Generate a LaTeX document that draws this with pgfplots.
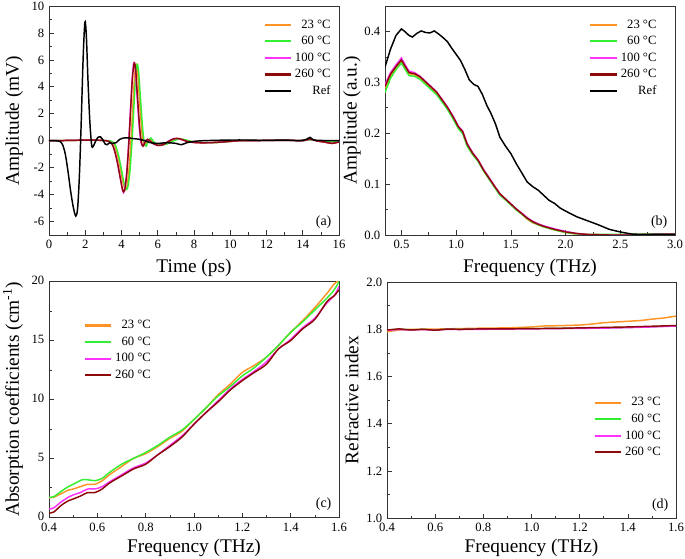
\documentclass[border=0pt]{standalone}
\usepackage{fontspec}
\setmainfont{Liberation Serif}
\usepackage{pgfplots}
\pgfplotsset{compat=1.18}
\definecolor{cA}{HTML}{FF9326}
\definecolor{cB}{HTML}{33EE33}
\definecolor{cC}{HTML}{FF33FF}
\definecolor{cD}{HTML}{8E0A0A}

\pgfplotsset{
  xlab/.style={every axis x label/.style={at={(axis description cs:0.5,#1)}, anchor=center,
      font=\fontsize{14.5}{17}\selectfont}},
  ylab/.style={every axis y label/.style={at={(axis description cs:#1,0.5)}, rotate=90, anchor=center,
      font=\fontsize{14.5}{17}\selectfont}},
  panel/.style={
    scale only axis,
    anchor=south west,
    font=\fontsize{9.5}{11}\selectfont,
    /pgf/number format/assume math mode=true,
    axis line style={black!80, line width=0.6pt},
    tick style={black!80, line width=0.5pt},
    major tick length=3.5pt, minor tick length=2pt,
    tick align=inside, xtick pos=bottom, ytick pos=left,
    minor x tick num=1, minor y tick num=1,
    xlab=-0.145, ylab=-0.12,
    legend cell align=right,
    legend style={draw=none, fill=none, font=\fontsize{9.5}{11}\selectfont,
      anchor=north west, row sep=0.6pt},
    legend image code/.code={\draw[#1, line width=1.6pt] (0pt,0pt) -- (20pt,0pt);},
    every axis plot/.append style={line width=1.1pt},
  },
}

\begin{document}
\begin{tikzpicture}
\path[use as bounding box] (0,0) rectangle (513.75pt,419.25pt);

% (a) time domain
\begin{axis}[panel, at={(36.75pt,243pt)}, width=217.5pt, height=171.75pt,
  xmin=0, xmax=16, ymin=-7, ymax=10,
  xtick={0,2,...,16}, ytick={-6,-4,...,10},
  xlabel={Time (ps)}, ylabel={Amplitude (mV)},
  legend style={at={(axis description cs:0.725,0.965)}}]
\addplot[cA, smooth] coordinates {(0,0) (0.5,0) (1,0.02) (1.5,0.03) (2,0.05) (2.5,0.04) (3,0.02) (3.4,-0.05) (3.6,-0.3) (3.75,-0.9) (3.9,-1.8) (4.05,-2.9) (4.15,-3.45) (4.23,-3.65) (4.31,-3.35) (4.41,-2.2) (4.51,-0.3) (4.61,2.2) (4.71,4.5) (4.8,5.65) (4.88,5.2) (4.98,3.3) (5.1,1.0) (5.2,-0.15) (5.3,-0.35) (5.4,-0.1) (5.55,0.1) (5.7,-0.05) (5.9,-0.25) (6.1,-0.3) (6.4,-0.25) (6.7,-0.05) (7.0,0.12) (7.3,0.12) (7.6,0.0) (7.9,-0.1) (8.3,-0.15) (8.9,-0.15) (9.5,-0.1) (10,-0.05) (10.5,0.0) (11,0.0) (12,0.02) (13,0.03) (13.5,0.02) (14,0.0) (14.4,0.08) (14.8,-0.02) (15.2,-0.1) (15.6,-0.15) (16,-0.1)};
\addlegendentry{23 °C}
\addplot[cB, smooth] coordinates {(0,0) (0.5,0) (1,0.02) (1.5,0.03) (2,0.05) (2.5,0.04) (3,0.02) (3.45,-0.05) (3.65,-0.3) (3.8,-0.9) (3.95,-1.8) (4.1,-2.9) (4.2,-3.45) (4.3,-3.6) (4.37,-3.3) (4.47,-2.2) (4.57,-0.3) (4.67,2.2) (4.77,4.5) (4.86,5.65) (4.94,5.2) (5.04,3.3) (5.16,1.0) (5.26,-0.15) (5.36,-0.4) (5.46,-0.1) (5.62,0.2) (5.75,-0.05) (5.95,-0.25) (6.15,-0.3) (6.5,-0.25) (6.8,-0.05) (7.1,0.1) (7.4,0.1) (7.7,0.0) (8.0,-0.1) (8.5,-0.15) (9.0,-0.15) (9.5,-0.12) (10,-0.05) (10.5,0.0) (11,0.0) (12,0.02) (13,0.03) (13.5,0.02) (14,0.0) (14.4,0.06) (14.8,0.0) (15.2,-0.05) (15.6,-0.1) (16,-0.05)};
\addlegendentry{60 °C}
\addplot[cC, smooth] coordinates {(0,0) (0.5,0) (1,0.02) (1.5,0.03) (2,0.05) (2.5,0.04) (3,0.02) (3.3,-0.05) (3.5,-0.3) (3.65,-0.9) (3.8,-1.8) (3.95,-2.9) (4.05,-3.6) (4.11,-3.85) (4.19,-3.5) (4.29,-2.3) (4.39,-0.3) (4.49,2.2) (4.59,4.6) (4.68,5.8) (4.76,5.3) (4.86,3.3) (4.98,1.0) (5.08,-0.15) (5.18,-0.4) (5.28,-0.1) (5.43,0.1) (5.58,-0.05) (5.78,-0.25) (5.98,-0.35) (6.28,-0.3) (6.58,-0.05) (6.88,0.15) (7.18,0.15) (7.48,0.0) (7.78,-0.1) (8.2,-0.15) (8.8,-0.15) (9.5,-0.1) (10,-0.05) (10.5,0.0) (11,0.0) (12,0.02) (13,0.03) (13.5,0.02) (14,0.0) (14.4,0.1) (14.8,-0.02) (15.2,-0.1) (15.6,-0.2) (16,-0.1)};
\addlegendentry{100 °C}
\addplot[cD, smooth] coordinates {(0,0) (0.5,0) (1,0.02) (1.5,0.03) (2,0.05) (2.5,0.04) (3,0.02) (3.3,-0.05) (3.5,-0.3) (3.65,-0.9) (3.8,-1.8) (3.95,-2.9) (4.05,-3.6) (4.12,-3.8) (4.2,-3.5) (4.3,-2.3) (4.4,-0.3) (4.5,2.2) (4.6,4.6) (4.7,5.75) (4.78,5.3) (4.88,3.3) (5.0,1.0) (5.1,-0.15) (5.2,-0.4) (5.3,-0.1) (5.45,0.1) (5.6,-0.05) (5.8,-0.25) (6.0,-0.35) (6.3,-0.3) (6.6,-0.05) (6.9,0.15) (7.2,0.15) (7.5,0.0) (7.8,-0.1) (8.2,-0.15) (8.8,-0.15) (9.5,-0.1) (10,-0.05) (10.5,0.0) (11,0.0) (12,0.02) (13,0.03) (13.5,0.02) (14,0.0) (14.4,0.12) (14.8,-0.02) (15.2,-0.1) (15.6,-0.2) (16,-0.1)};
\addlegendentry{260 °C}
\addplot[black, smooth] coordinates {(0,0) (0.4,0) (0.6,-0.05) (0.75,-0.3) (0.9,-1.0) (1.05,-2.3) (1.2,-3.8) (1.35,-5.0) (1.48,-5.6) (1.58,-5.0) (1.68,-2.5) (1.78,1.5) (1.88,6.0) (1.98,8.8) (2.06,7.8) (2.15,4.5) (2.25,1.5) (2.35,-0.3) (2.43,-0.45) (2.55,-0.1) (2.7,0.25) (2.82,0.3) (2.95,0.1) (3.1,-0.25) (3.2,-0.3) (3.35,-0.15) (3.5,-0.2) (3.7,-0.15) (3.9,0.1) (4.1,0.2) (4.4,0.2) (4.7,0.15) (5.0,0.1) (5.3,0.0) (5.6,-0.15) (6.0,-0.2) (6.5,-0.15) (7.0,-0.2) (7.3,-0.3) (7.6,-0.15) (8.0,-0.05) (8.5,0.0) (9,0.02) (10,0.05) (11,0.05) (12,0.02) (13,0.05) (13.8,0.0) (14.2,0.1) (14.4,0.25) (14.6,0.05) (15,0.02) (15.5,0.0) (16,0.0)};
\addlegendentry{Ref}
\node[anchor=south east, font=\fontsize{10.5}{12}\selectfont] at (rel axis cs:0.99,0.01) {(a)};
\end{axis}

% (b) spectrum
\begin{axis}[panel, at={(288.75pt,243pt)}, width=217.5pt, height=171.75pt,
  xmin=0.35, xmax=3.0, ymin=0, ymax=0.45,
  xtick={0.5,1.0,...,3.0}, ytick={0,0.1,...,0.4},
  xticklabel style={/pgf/number format/.cd, fixed, fixed zerofill, precision=1},
  yticklabel style={/pgf/number format/.cd, fixed, fixed zerofill, precision=1},
  xlabel={Frequency (THz)}, ylabel={Amplitude (a.u.)}, ylab=-0.114,
  legend style={at={(axis description cs:0.69,0.965)}}]
\addplot[cA] coordinates {(0.35,0.288) (0.40,0.313) (0.45,0.328) (0.50,0.341) (0.53,0.330) (0.57,0.317) (0.62,0.315) (0.67,0.309) (0.72,0.299) (0.77,0.289) (0.82,0.279) (0.87,0.264) (0.92,0.249) (0.97,0.231) (1.02,0.211) (1.06,0.201) (1.10,0.177) (1.15,0.159) (1.20,0.146) (1.25,0.127) (1.30,0.111) (1.35,0.095) (1.40,0.080) (1.45,0.070) (1.50,0.060) (1.55,0.050) (1.60,0.041) (1.65,0.031) (1.70,0.024) (1.75,0.020) (1.80,0.016) (1.90,0.010) (2.00,0.005) (2.10,0.002) (2.20,0.001) (2.40,0.000) (2.60,0.001) (2.80,0.001) (3.00,0.002)};
\addlegendentry{23 °C}
\addplot[cB] coordinates {(0.35,0.280) (0.40,0.308) (0.45,0.325) (0.50,0.338) (0.53,0.327) (0.57,0.313) (0.62,0.312) (0.67,0.306) (0.72,0.296) (0.77,0.286) (0.82,0.276) (0.87,0.262) (0.92,0.247) (0.97,0.229) (1.02,0.209) (1.06,0.199) (1.10,0.175) (1.15,0.158) (1.20,0.145) (1.25,0.126) (1.30,0.110) (1.35,0.094) (1.40,0.078) (1.45,0.069) (1.50,0.059) (1.55,0.049) (1.60,0.041) (1.65,0.032) (1.70,0.025) (1.75,0.020) (1.80,0.016) (1.90,0.010) (2.00,0.005) (2.10,0.002) (2.20,0.001) (2.40,0.001) (2.60,0.001) (2.80,0.002) (3.00,0.001)};
\addlegendentry{60 °C}
\addplot[cC] coordinates {(0.35,0.296) (0.40,0.319) (0.45,0.334) (0.50,0.348) (0.53,0.336) (0.57,0.322) (0.62,0.319) (0.67,0.312) (0.72,0.302) (0.77,0.292) (0.82,0.282) (0.87,0.267) (0.92,0.252) (0.97,0.234) (1.02,0.214) (1.06,0.204) (1.10,0.180) (1.15,0.162) (1.20,0.148) (1.25,0.129) (1.30,0.113) (1.35,0.097) (1.40,0.081) (1.45,0.071) (1.50,0.061) (1.55,0.051) (1.60,0.043) (1.65,0.034) (1.70,0.027) (1.75,0.022) (1.80,0.018) (1.90,0.012) (2.00,0.007) (2.10,0.003) (2.20,0.001) (2.40,0.000) (2.60,0.000) (2.80,0.001) (3.00,0.001)};
\addlegendentry{100 °C}
\addplot[cD] coordinates {(0.35,0.292) (0.40,0.316) (0.45,0.331) (0.50,0.344) (0.53,0.333) (0.57,0.319) (0.62,0.317) (0.67,0.311) (0.72,0.301) (0.77,0.291) (0.82,0.281) (0.87,0.266) (0.92,0.251) (0.97,0.233) (1.02,0.213) (1.06,0.203) (1.10,0.179) (1.15,0.161) (1.20,0.147) (1.25,0.128) (1.30,0.112) (1.35,0.096) (1.40,0.081) (1.45,0.071) (1.50,0.061) (1.55,0.051) (1.60,0.042) (1.65,0.033) (1.70,0.026) (1.75,0.021) (1.80,0.017) (1.90,0.011) (2.00,0.006) (2.10,0.003) (2.20,0.001) (2.40,0.000) (2.60,0.000) (2.80,0.001) (3.00,0.001)};
\addlegendentry{260 °C}
\addplot[black] coordinates {(0.35,0.330) (0.40,0.365) (0.45,0.392) (0.50,0.405) (0.53,0.400) (0.57,0.392) (0.60,0.389) (0.64,0.396) (0.68,0.401) (0.72,0.398) (0.76,0.397) (0.80,0.401) (0.84,0.395) (0.88,0.388) (0.92,0.380) (0.96,0.367) (1.00,0.355) (1.04,0.343) (1.08,0.325) (1.12,0.305) (1.16,0.296) (1.20,0.292) (1.24,0.276) (1.28,0.255) (1.32,0.238) (1.36,0.218) (1.40,0.192) (1.45,0.175) (1.50,0.160) (1.55,0.140) (1.60,0.122) (1.65,0.104) (1.70,0.095) (1.75,0.088) (1.80,0.078) (1.85,0.068) (1.90,0.062) (1.95,0.053) (2.00,0.047) (2.10,0.036) (2.20,0.028) (2.30,0.020) (2.40,0.011) (2.50,0.006) (2.60,0.002) (2.70,0.001) (2.80,0.001) (3.00,0.001)};
\addlegendentry{Ref}
\node[anchor=south east, font=\fontsize{10.5}{12}\selectfont] at (rel axis cs:0.99,0.01) {(b)};
\end{axis}

% (c) absorption
\begin{axis}[panel, at={(36.75pt,31.3pt)}, width=217.5pt, height=176.7pt,
  xmin=0.4, xmax=1.6, ymin=0, ymax=20,
  xtick={0.4,0.6,...,1.6}, ytick={0,5,...,20},
  xticklabel style={yshift=-1pt, /pgf/number format/.cd, fixed, fixed zerofill, precision=1},
  yticklabel style={yshift=1pt},
  xlabel={Frequency (THz)}, ylabel={Absorption coefficients (cm\textsuperscript{-1})},
  xlab=-0.13, ylab=-0.124,
  legend style={at={(axis description cs:0.105,0.86)}}]
\addplot[cA, smooth] coordinates {(0.40,1.65) (0.42,1.7) (0.45,2.0) (0.48,2.3) (0.50,2.4) (0.53,2.6) (0.56,2.8) (0.59,2.8) (0.62,3.1) (0.65,3.6) (0.70,4.3) (0.75,5.0) (0.80,5.4) (0.85,6.0) (0.90,6.7) (0.95,7.3) (1.00,8.3) (1.05,9.3) (1.10,10.4) (1.15,11.3) (1.20,12.3) (1.25,12.9) (1.30,13.6) (1.35,14.6) (1.40,15.7) (1.45,16.7) (1.50,17.8) (1.55,19.0) (1.58,19.8) (1.60,20.1)};
\addlegendentry{23 °C}
\addplot[cB, smooth] coordinates {(0.40,1.7) (0.42,1.75) (0.45,2.2) (0.48,2.6) (0.50,2.8) (0.54,3.2) (0.57,3.15) (0.59,3.1) (0.62,3.3) (0.65,3.8) (0.70,4.5) (0.75,5.0) (0.80,5.5) (0.85,6.1) (0.90,6.8) (0.95,7.4) (1.00,8.3) (1.05,9.3) (1.10,10.3) (1.15,11.1) (1.20,12.0) (1.25,12.7) (1.30,13.6) (1.35,14.6) (1.40,15.7) (1.45,16.6) (1.50,17.6) (1.55,18.6) (1.58,19.3) (1.60,20.0)};
\addlegendentry{60 °C}
\addplot[cC, smooth] coordinates {(0.40,0.7) (0.42,0.8) (0.45,1.3) (0.48,1.7) (0.50,1.9) (0.53,2.1) (0.56,2.4) (0.59,2.4) (0.62,2.6) (0.65,3.0) (0.70,3.6) (0.75,4.2) (0.80,4.6) (0.85,5.3) (0.90,6.1) (0.95,6.9) (1.00,7.9) (1.05,8.9) (1.10,9.9) (1.15,10.9) (1.20,11.7) (1.25,12.4) (1.30,13.2) (1.35,14.3) (1.40,15.1) (1.45,16.1) (1.50,16.9) (1.55,18.2) (1.58,18.8) (1.60,19.6)};
\addlegendentry{100 °C}
\addplot[cD, smooth] coordinates {(0.40,0.35) (0.42,0.45) (0.45,1.0) (0.48,1.4) (0.50,1.55) (0.53,1.8) (0.56,2.1) (0.59,2.1) (0.62,2.4) (0.65,2.9) (0.70,3.5) (0.75,4.1) (0.80,4.5) (0.85,5.3) (0.90,6.0) (0.95,6.8) (1.00,7.9) (1.05,8.9) (1.10,9.8) (1.15,10.8) (1.20,11.6) (1.25,12.3) (1.30,13.0) (1.35,14.3) (1.40,15.0) (1.45,16.0) (1.50,16.8) (1.55,18.3) (1.58,18.8) (1.60,19.3)};
\addlegendentry{260 °C}
\node[anchor=south east, font=\fontsize{10.5}{12}\selectfont] at (rel axis cs:0.99,0.01) {(c)};
\end{axis}

% (d) refractive index
\begin{axis}[panel, at={(290.25pt,30.5pt)}, width=216.75pt, height=177.2pt,
  xmin=0.4, xmax=1.6, ymin=1.0, ymax=2.0,
  xtick={0.4,0.6,...,1.6}, ytick={1.0,1.2,...,2.0},
  xticklabel style={/pgf/number format/.cd, fixed, fixed zerofill, precision=1},
  yticklabel style={/pgf/number format/.cd, fixed, fixed zerofill, precision=1},
  xlabel={Frequency (THz)}, ylabel={Refractive index},
  xlab=-0.125, ylab=-0.122,
  legend style={at={(axis description cs:0.70,0.535)}}]
\addplot[cA] coordinates {(0.40,1.790) (0.45,1.797) (0.50,1.800) (0.60,1.801) (0.70,1.803) (0.80,1.805) (0.90,1.806) (1.00,1.810) (1.05,1.814) (1.10,1.815) (1.20,1.818) (1.25,1.822) (1.30,1.828) (1.40,1.834) (1.45,1.837) (1.50,1.843) (1.55,1.848) (1.60,1.856)};
\addlegendentry{23 °C}
\addplot[cB] coordinates {(0.40,1.797) (0.45,1.800) (0.50,1.798) (0.55,1.800) (0.60,1.797) (0.65,1.801) (0.70,1.800) (0.80,1.801) (0.90,1.802) (1.00,1.803) (1.10,1.804) (1.20,1.805) (1.30,1.806) (1.40,1.808) (1.50,1.811) (1.60,1.815)};
\addlegendentry{60 °C}
\addplot[cC] coordinates {(0.40,1.796) (0.45,1.799) (0.50,1.797) (0.55,1.799) (0.60,1.796) (0.65,1.800) (0.70,1.799) (0.80,1.800) (0.90,1.801) (1.00,1.802) (1.10,1.803) (1.20,1.804) (1.30,1.805) (1.40,1.807) (1.50,1.810) (1.60,1.814)};
\addlegendentry{100 °C}
\addplot[cD] coordinates {(0.40,1.797) (0.45,1.802) (0.50,1.797) (0.55,1.800) (0.60,1.796) (0.65,1.801) (0.70,1.800) (0.80,1.802) (0.90,1.802) (1.00,1.803) (1.10,1.804) (1.20,1.806) (1.30,1.808) (1.40,1.810) (1.50,1.813) (1.60,1.816)};
\addlegendentry{260 °C}
\node[anchor=south east, font=\fontsize{10.5}{12}\selectfont] at (rel axis cs:0.99,0.01) {(d)};
\end{axis}
\end{tikzpicture}
\end{document}
